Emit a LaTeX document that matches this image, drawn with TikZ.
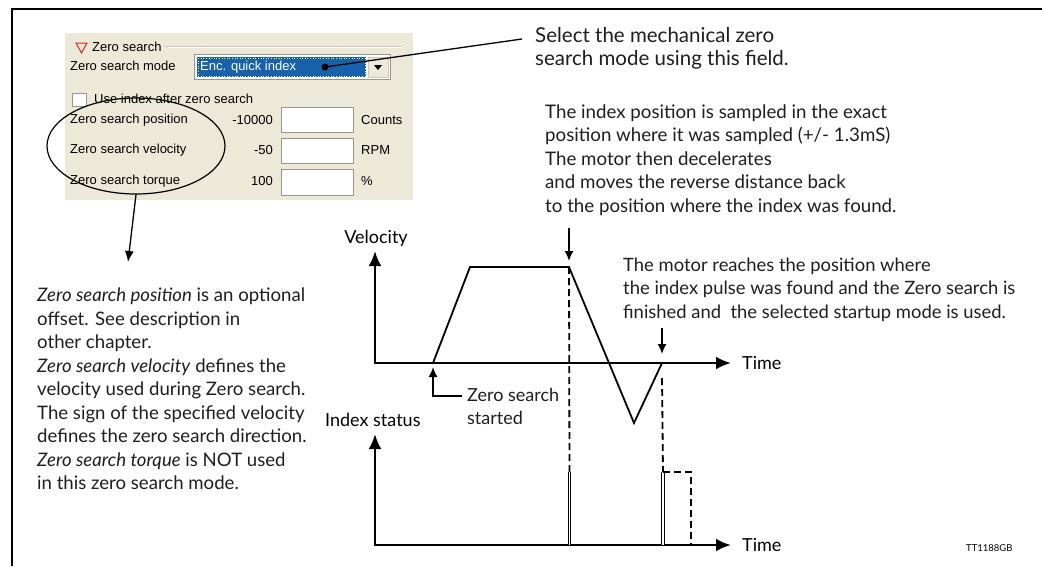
\documentclass[tikz,border=0pt]{standalone}
\usepackage{fontspec}
\setmainfont{Lato}
\newfontfamily\dlgfont{Liberation Sans}
\usetikzlibrary{arrows.meta,shapes.geometric}
\definecolor{panelbg}{RGB}{236,233,216}
\definecolor{selblue}{RGB}{22,98,172}
\definecolor{edgegray}{RGB}{150,150,140}
\definecolor{grpline}{RGB}{205,202,185}
\definecolor{trired}{RGB}{220,40,40}
\definecolor{inkc}{RGB}{30,30,30}
\begin{document}
\begin{tikzpicture}[x=1pt,y=-1pt,
  axis/.style={line width=2.6pt, {Latex[length=15pt,width=13pt]}-{Latex[length=15pt,width=13pt]}},
  curve/.style={line width=1.8pt, line join=miter},
  marker/.style={line width=1.6pt, -{Latex[length=10pt,width=9pt]}},
  guide/.style={line width=1.8pt, dash pattern=on 7pt off 4pt},
  pulse/.style={double, line width=0.9pt, double distance=1.3pt},
  body/.style={font=\fontsize{18.7}{23.5}\selectfont, align=left, inner sep=0pt, anchor=north west, text=inkc},
  dlg/.style={font=\dlgfont\fontsize{13}{15}\selectfont, inner sep=0pt, text=black},
  field/.style={draw=edgegray, fill=white, line width=1pt},
]
\useasboundingbox (0,0) rectangle (1042,566);
% frame
\coordinate (fbl) at (12,566);
\coordinate (ftl) at (12,9);
\coordinate (ftr) at (1042,9);
\draw[line width=2.5pt] (fbl) -- (ftl) -- (ftr);

% dialog panel
\fill[panelbg] (65,33) rectangle (413,200);
\draw[trired, line width=1pt, line join=miter] (76,43) -- (87,43) -- (81.5,53) -- cycle;
\node[dlg, anchor=west] (grp) at (92,47) {Zero search};
\draw[grpline, line width=1pt] (grp.east) ++(3,-1) -- (402,46);
\draw[white, line width=1pt] (168,47) -- (402,47);
\node[dlg, anchor=west] (modelbl) at (70,66) {Zero search mode};
\draw[edgegray, fill=white, line width=1pt] (194,54) rectangle (390,79);
\fill[selblue] (197,57) rectangle (366,77);
\draw[white, dotted, line width=0.6pt] (198,58) rectangle (365,76);
\node[dlg, anchor=west, text=white] (modeval) at (200,67) {Enc. quick index};
\draw[grpline, fill=panelbg, line width=1pt] (368,57) rectangle (388,77);
\fill[black] (374,65) -- (382,65) -- (378,70) -- cycle;
\draw[field] (72,93) rectangle (86,106);
\node[dlg, anchor=west] (useidx) at (94,99) {Use index after zero search};
\node[dlg, anchor=west] (r1) at (70,120) {Zero search position};
\node[dlg, anchor=west] (r2) at (70,150) {Zero search velocity};
\node[dlg, anchor=west] (r3) at (70,181) {Zero search torque};
\node[dlg, anchor=east] (v1) at (273,120) {-10000};
\node[dlg, anchor=east] (v2) at (273,150) {-50};
\node[dlg, anchor=east] (v3) at (273,181) {100};
\draw[field] (281,107) rectangle (353,132);
\draw[field] (281,138) rectangle (353,163);
\draw[field] (281,169) rectangle (353,195);
\node[dlg, anchor=west] (u1) at (361,120) {Counts};
\node[dlg, anchor=west] (u2) at (361,150) {RPM};
\node[dlg, anchor=west] (u3) at (361,181) {\%};

% ellipse and its arrow
\node[ellipse, draw, line width=1.2pt, minimum width=178pt, minimum height=96pt, inner sep=0pt] (ell) at (136,146) {};
\coordinate (elltip) at (128,262);
\draw[line width=1.3pt, -{Latex[length=11pt,width=9pt]}] (ell.south) -- (elltip);

% pointer to the mode field
\node[circle, fill=black, inner sep=0pt, minimum size=7pt] (dot) at (325,67) {};
\coordinate (selend) at (522,39);
\draw[line width=1.3pt] (dot.center) -- (selend);

% texts
\node[body, font=\fontsize{20.5}{23}\selectfont] (seltext) at (535,27) {Select the mechanical zero\\search mode using this field.};
\node[body] (idxtext) at (545,104.5) {The index position is sampled in the exact\\position where it was sampled (+/- 1.3mS)\\The motor then decelerates\\and moves the reverse distance back\\to the position where the index was found.};
\node[body, font=\fontsize{18.4}{23.5}\selectfont] (motortext) at (623,257.5) {The motor reaches the position where\\the index pulse was found and the Zero search is\\finished and\ \ the selected startup mode is used.};
\node[body, font=\fontsize{18.6}{23.5}\selectfont] (lefttext) at (37,288) {\textit{Zero search position} is an optional\\offset. See description in\\other chapter.\\\textit{Zero search velocity} defines the\\velocity used during Zero search.\\The sign of the specified velocity\\defines the zero search direction.\\\textit{Zero search torque} is NOT used\\in this zero search mode.};

% velocity graph
\coordinate (O1) at (375,363);
\coordinate (V1tip) at (375,251);
\coordinate (T1tip) at (731,363);
\draw[axis] (V1tip) -- (O1) -- (T1tip);
\node[inner sep=0pt, anchor=base, font=\fontsize{18}{20}\selectfont] (vlab) at (376,243) {Velocity};
\node[inner sep=0pt, anchor=west, font=\fontsize{18}{20}\selectfont] (tlab1) at (742,363) {Time};
\coordinate (P0) at (433,363);
\coordinate (P1) at (470,267);
\coordinate (P2) at (569,267);
\coordinate (P3) at (634,423);
\coordinate (P4) at (662,363);
\draw[curve] (P0) -- (P1) -- (P2) -- (P3) -- (P4);

% markers
\coordinate (a1s) at (569,228);
\coordinate (a1t) at (569,261);
\draw[marker] (a1s) -- (a1t);
\coordinate (a2s) at (662,328);
\coordinate (a2t) at (662,354);
\draw[marker] (a2s) -- (a2t);
\node[body, font=\fontsize{18}{23.5}\selectfont] (zstext) at (467,388) {Zero search\\started};
\coordinate (zsl) at (462,396);
\coordinate (zstip) at (433,367);
\draw[marker] (zsl) -| (zstip);

% index status graph
\coordinate (O2) at (375,545);
\coordinate (V2tip) at (375,434);
\coordinate (T2tip) at (731,545);
\draw[axis] (V2tip) -- (O2) -- (T2tip);
\node[inner sep=0pt, anchor=west, font=\fontsize{18}{20}\selectfont] (islab) at (325,420) {Index status};
\node[inner sep=0pt, anchor=west, font=\fontsize{18}{20}\selectfont] (tlab2) at (742,545) {Time};

% guides and pulses
\coordinate (q1top) at (569.5,472);
\coordinate (q1bot) at (569.5,545);
\draw[guide] (P2) -- (q1top);
\draw[pulse] (q1bot) -- (q1top);
\coordinate (d2s) at (662,378);
\coordinate (q2top) at (663,472);
\coordinate (q2bot) at (663,545);
\coordinate (q2r) at (691,472);
\coordinate (q2rb) at (691,545);
\draw[guide] (d2s) -- (q2top);
\draw[pulse] (q2bot) -- (q2top);
\draw[guide] (q2top) -- (q2r) -- (q2rb);

\node[inner sep=0pt, anchor=west, font=\fontsize{9.5}{11}\selectfont] (code) at (966,548) {TT1188GB};
\end{tikzpicture}
\end{document}
